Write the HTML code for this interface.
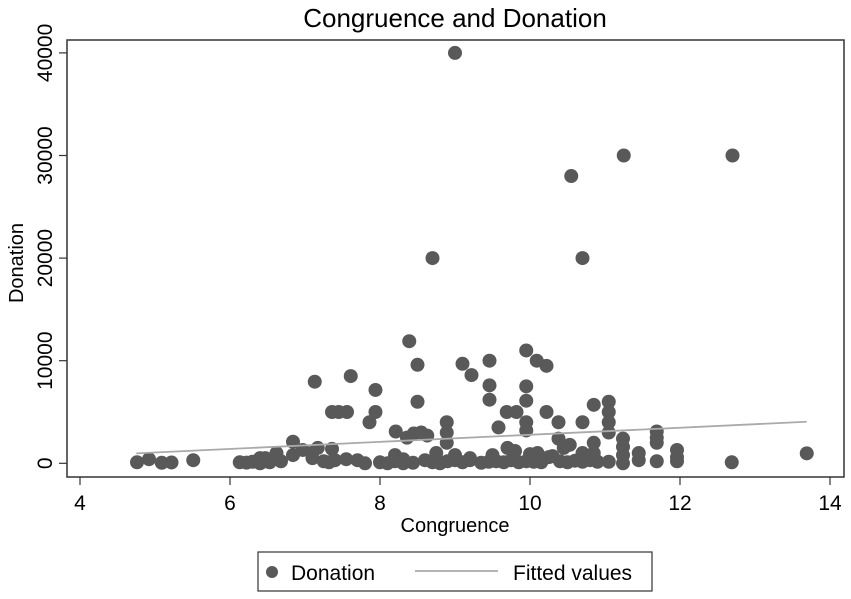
<!DOCTYPE html>
<html><head><meta charset="utf-8"><style>
body{margin:0;background:#fff;}
svg{display:block;font-family:"Liberation Sans",Arial,sans-serif;}
</style></head><body>
<svg id="chart" width="851" height="599" viewBox="0 0 851 599">
<rect x="0" y="0" width="851" height="599" fill="#fff"/>
<text x="455" y="27" font-size="26" text-anchor="middle" fill="#000">Congruence and Donation</text>
<rect x="67" y="40" width="777" height="437" fill="none" stroke="#333" stroke-width="1.5"/>
<g id="yticks"></g><g id="xticks"></g>
<text x="0" y="0" font-size="20" text-anchor="middle" transform="translate(23,263) rotate(-90)">Donation</text>
<text x="455" y="532" font-size="20" text-anchor="middle">Congruence</text>
<g id="points"></g>
<line id="fit" stroke="#aaa" stroke-width="1.8"/>
<g>
<rect x="258" y="552" width="394" height="39" fill="#fff" stroke="#333" stroke-width="1.2"/>
<circle cx="272" cy="572" r="6" fill="#595959"/>
<text x="291" y="580" font-size="21">Donation</text>
<line x1="415" y1="571" x2="498" y2="571" stroke="#aaa" stroke-width="1.8"/>
<text x="513" y="580" font-size="21">Fitted values</text>
</g>
</svg>
<script>
const congruence = [9.0,11.25,12.7,10.55,8.7,10.7,8.39,8.5,9.1,9.22,7.61,7.13,7.94,9.46,9.95,10.09,10.22,9.46,9.95,9.46,9.95,8.5,11.05,10.85,11.05,11.05,11.05,10.22,10.38,10.38,10.7,9.69,9.82,9.58,9.95,9.95,7.36,7.45,7.56,7.94,7.86,8.21,8.89,8.89,8.89,8.36,8.45,8.55,8.63,9.0,
4.76,4.92,5.09,5.22,5.51,6.13,6.22,6.3,6.4,6.47,6.53,6.4,6.47,6.62,6.68,6.84,6.84,6.97,7.09,7.1,7.17,7.36,7.25,7.32,7.4,7.55,7.7,7.8,8.0,8.1,8.2,8.31,8.44,8.2,8.31,8.6,8.7,8.8,8.9,9.0,9.1,9.2,9.35,9.45,9.55,9.65,9.75,9.85,9.95,10.05,10.15,10.25,10.4,10.5,10.6,10.7,10.8,10.9,11.05,11.24,11.24,11.24,11.24,11.45,11.45,11.69,11.69,11.69,11.69,11.96,11.96,11.96,12.69,13.69,10.85,10.85,10.53,10.7,9.7,9.8,10.0,10.1,9.5,8.75,9.2,10.3,10.45];
const donation = [40000,30000,30000,28000,20000,20000,11900,9600,9700,8600,8500,7950,7150,10000,11000,10000,9500,7600,7500,6200,6100,6000,6000,5700,5000,4000,3000,5000,4000,2400,4000,5000,5000,3500,4000,3200,5000,5000,5000,5000,4000,3100,4000,3000,2000,2500,2900,3000,2700,300,
100,400,50,80,300,100,60,150,500,500,100,0,200,1000,200,2100,800,1300,1000,500,1500,1400,200,100,300,400,300,0,100,0,800,400,50,200,0,300,100,0,200,800,100,300,50,150,200,100,300,100,200,150,100,600,200,100,250,150,300,150,150,2400,1600,800,0,1000,300,3100,2500,2000,200,1300,600,200,100,970,2000,1000,1800,1000,1500,1200,900,1000,800,1000,500,700,1500];
const xTickLabels = [4,6,8,10,12,14];
const yTickLabels = [0,10000,20000,30000,40000];
const fitX = [4.75,13.69];
const fitY = [970,4050];

const NS="http://www.w3.org/2000/svg";
function xs(v){return 80+(v-4)*75;}
function ys(v){return 463.3-v*0.01026;}
const yt=document.getElementById('yticks');
yTickLabels.forEach(v=>{
  const y=ys(v);
  const l=document.createElementNS(NS,'line');
  l.setAttribute('x1',59);l.setAttribute('x2',67);l.setAttribute('y1',y);l.setAttribute('y2',y);
  l.setAttribute('stroke','#333');l.setAttribute('stroke-width','1.2');
  
  
  yt.appendChild(l);
  const t=document.createElementNS(NS,'text');
  t.setAttribute('transform','translate(52,'+y+') rotate(-90)');
  t.setAttribute('text-anchor','middle');t.setAttribute('font-size','21');
  t.textContent=v;
  
  
  yt.appendChild(t);
});
const xt=document.getElementById('xticks');
xTickLabels.forEach(v=>{
  const x=xs(v);
  const l=document.createElementNS(NS,'line');
  l.setAttribute('x1',x);l.setAttribute('x2',x);l.setAttribute('y1',477);l.setAttribute('y2',485);
  l.setAttribute('stroke','#333');l.setAttribute('stroke-width','1.2');
  
  
  xt.appendChild(l);
  const t=document.createElementNS(NS,'text');
  t.setAttribute('x',x);t.setAttribute('y',510);
  t.setAttribute('text-anchor','middle');t.setAttribute('font-size','21');
  t.textContent=v;
  
  
  xt.appendChild(t);
});
const pg=document.getElementById('points');
congruence.forEach((c,i)=>{
  const p=document.createElementNS(NS,'circle');
  p.setAttribute('cx',xs(c));p.setAttribute('cy',ys(donation[i]));p.setAttribute('r',7);
  p.setAttribute('fill','#595959');
  
  
  pg.appendChild(p);
});
const f=document.getElementById('fit');
f.setAttribute('x1',xs(fitX[0]));f.setAttribute('y1',ys(fitY[0]));
f.setAttribute('x2',xs(fitX[1]));f.setAttribute('y2',ys(fitY[1]));
</script>
</body></html>
